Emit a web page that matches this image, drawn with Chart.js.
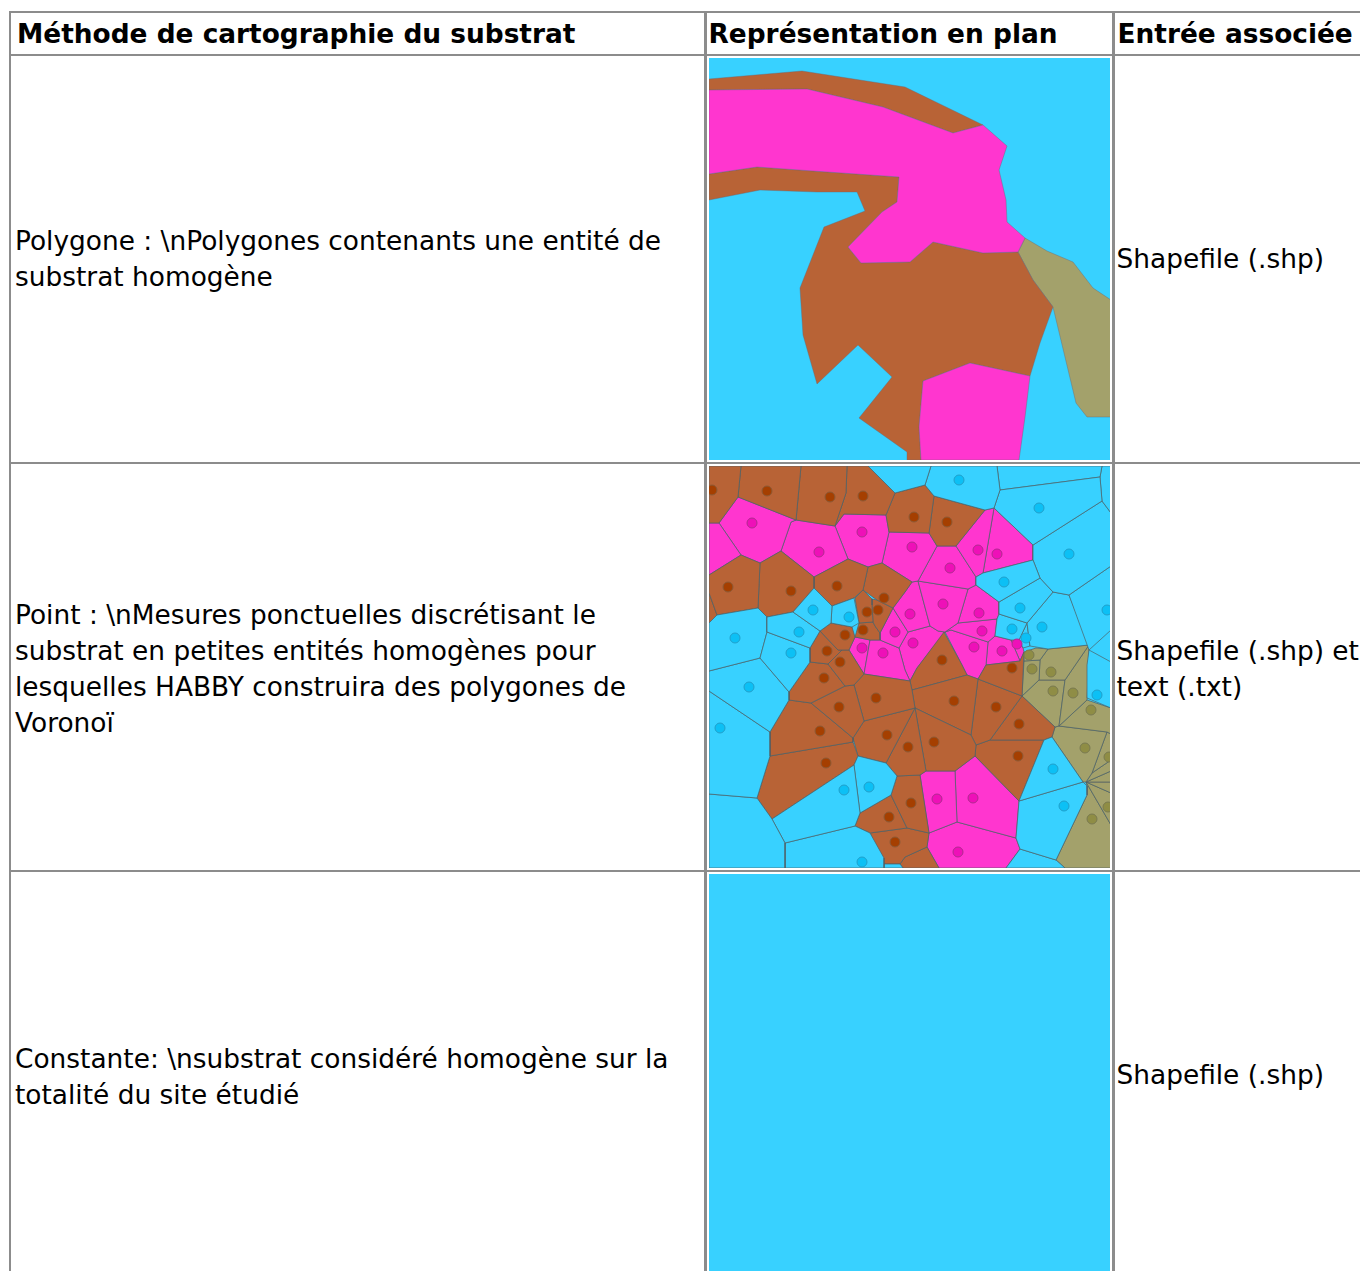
<!DOCTYPE html>
<html lang="fr">
<head>
<meta charset="UTF-8">
<title>Méthode de cartographie du substrat</title>
<script src="https://cdn.jsdelivr.net/npm/chart.js"></script>
<style>
  html, body { margin: 0; padding: 0; background: #fff; overflow: hidden; height: 1271px; }
  body { font-family: 'DejaVu Sans', sans-serif; font-size: 26.4px; line-height: 36px; color: #000; }
  table { position: absolute; left: 9px; top: 11px; width: 1500px; table-layout: fixed; border-collapse: collapse; }
  td, th { border: 2px solid #8c8c8c; padding: 0 0 0 2px; vertical-align: middle; text-align: left; white-space: nowrap; }
  td + td, th + th { border-left-width: 3px; }
  td:first-child { padding-left: 4px; }
  th { height: 41px; font-weight: bold; padding-left: 3px; }
  th:first-child { padding-left: 6px; }
  th:nth-child(2) { padding-left: 2px; }
  td.map { padding: 2px 0 0 2px; line-height: 0; height: 404px; vertical-align: top; }
  td.low { padding-top: 4px; }
  canvas { display: block; filter: blur(0.6px); }
</style>
</head>
<body>
<table>
  <colgroup><col style="width:695px"><col style="width:408px"><col></colgroup>
  <tr>
    <th>Méthode de cartographie du substrat</th>
    <th>Représentation en plan</th>
    <th>Entrée associée</th>
  </tr>
  <tr>
    <td>Polygone : \nPolygones contenants une entité de<br>substrat homogène</td>
    <td class="map"><canvas id="mapPolygon" width="401" height="402"></canvas></td>
    <td>Shapefile (.shp)</td>
  </tr>
  <tr>
    <td class="low">Point : \nMesures ponctuelles discrétisant le<br>substrat en petites entités homogènes pour<br>lesquelles HABBY construira des polygones de<br>Voronoï</td>
    <td class="map"><canvas id="mapPoint" width="401" height="402"></canvas></td>
    <td class="low">Shapefile (.shp) et<br>text (.txt)</td>
  </tr>
  <tr>
    <td class="low">Constante: \nsubstrat considéré homogène sur la<br>totalité du site étudié</td>
    <td class="map"><canvas id="mapConstant" width="401" height="402"></canvas></td>
    <td>Shapefile (.shp)</td>
  </tr>
</table>
<script>
// polygon map in page pixels
const polyBlue = [[709,58],[1111,58],[1111,460],[709,460]];
const polyBrown = [
  [[709,79],[802,71],[905,87],[983,125],[953,133],[883,107],[807,89],[709,90]],
  [[709,174],[757,167],[813,171],[899,177],[897,202],[882,212],[848,247],[861,263],[910,262],[933,242],[983,253],[1018,252],[1033,280],[1053,307],[1040,343],[1030,376],[970,363],[923,381],[919,427],[921,460],[907,460],[907,452],[859,418],[892,377],[858,345],[817,384],[803,335],[800,288],[824,227],[865,211],[857,192],[817,192],[760,190],[709,200]]
];
const polyMagenta = [
  [[709,90],[807,89],[883,107],[953,133],[983,125],[1007,146],[999,170],[1006,200],[1007,222],[1025,238],[1018,252],[983,253],[933,242],[910,262],[861,263],[848,247],[882,212],[897,202],[899,177],[813,171],[757,167],[709,174]],
  [[923,381],[970,363],[1030,376],[1025,417],[1019,460],[921,460],[919,427]]
];
const polyOlive = [
  [[1025,238],[1047,251],[1073,262],[1093,288],[1111,300],[1111,417],[1087,417],[1076,403],[1053,307],[1033,280],[1018,252]]
];

// point map: Voronoi cells by substrate class
const pointGround = [[709,466],[1111,466],[1111,868],[709,868]];
const cellsBrown = [
  [[709,466],[741,466],[738,497],[719,523],[709,523]],
  [[741,466],[801,466],[796,520],[738,497]],
  [[801,466],[847,466],[846,493],[835,526],[796,520]],
  [[847,466],[868,466],[895,493],[886,515],[844,514],[835,526],[846,493]],
  [[895,493],[925,485],[934,496],[929,533],[889,532],[886,515]],
  [[934,496],[985,510],[956,546],[937,546],[929,533]],
  [[709,575],[741,555],[760,563],[758,608],[717,615],[709,593]],
  [[709,593],[717,615],[709,623]],
  [[760,563],[781,551],[814,577],[814,588],[793,612],[767,617],[758,608]],
  [[814,577],[848,559],[868,567],[863,590],[854,598],[832,606],[814,588]],
  [[868,567],[882,563],[912,582],[905,592],[893,608],[877,600],[863,590]],
  [[855,598],[863,590],[872,599],[872,605],[873,622],[859,623]],
  [[872,605],[872,599],[877,600],[893,608],[880,633],[875,626],[873,622]],
  [[859,623],[873,622],[875,626],[880,633],[880,640],[870,640],[855,637]],
  [[831,623],[852,627],[855,637],[849,650],[838,650],[820,631]],
  [[820,631],[838,650],[842,650],[828,664],[810,662],[810,648]],
  [[828,664],[842,650],[849,650],[864,674],[854,685],[845,686]],
  [[810,662],[828,664],[845,686],[811,703],[789,700],[789,692]],
  [[845,686],[854,685],[864,721],[853,738],[811,703]],
  [[789,700],[811,703],[853,738],[853,742],[770,756],[770,732]],
  [[770,756],[853,742],[858,756],[854,765],[772,819],[757,798]],
  [[854,685],[864,674],[910,681],[912,690],[915,708],[864,721]],
  [[853,738],[864,721],[915,708],[886,763],[858,756]],
  [[915,708],[926,771],[920,775],[897,776],[886,763]],
  [[915,708],[971,735],[976,745],[975,756],[955,771],[926,771]],
  [[912,690],[967,675],[978,679],[971,735],[915,708]],
  [[944,632],[962,665],[967,675],[912,690],[910,681],[917,668]],
  [[978,679],[986,665],[1020,661],[1024,652],[1022,696]],
  [[978,679],[1022,696],[990,740],[976,745],[971,735]],
  [[1022,696],[1055,727],[1052,737],[1044,740],[990,740]],
  [[976,745],[990,740],[1044,740],[1019,801],[975,756]],
  [[897,776],[920,775],[929,833],[907,828],[891,795]],
  [[860,813],[891,795],[907,828],[870,833],[855,826]],
  [[870,833],[907,828],[929,833],[927,847],[905,857],[900,864],[884,864]],
  [[905,857],[927,847],[939,868],[903,868],[900,864]]
];
const cellsMagenta = [
  [[709,523],[719,523],[741,555],[709,575]],
  [[719,523],[738,497],[796,520],[791,522],[781,551],[760,563],[741,555]],
  [[791,522],[796,520],[835,526],[848,559],[814,577],[781,551]],
  [[835,526],[844,514],[886,515],[889,532],[882,563],[868,567],[848,559]],
  [[889,532],[929,533],[937,546],[918,581],[912,582],[882,563]],
  [[956,546],[985,510],[994,508],[983,573],[976,577]],
  [[994,508],[1033,545],[1033,560],[983,573]],
  [[937,546],[956,546],[976,577],[976,585],[968,589],[918,581]],
  [[918,581],[968,589],[958,623],[945,632],[938,631],[930,626]],
  [[968,589],[976,585],[999,602],[999,614],[997,619],[958,623]],
  [[905,592],[912,582],[918,581],[930,626],[908,632],[893,608]],
  [[958,623],[997,619],[995,636],[988,642],[951,630],[945,632]],
  [[945,632],[951,630],[988,642],[986,665],[978,679],[967,675],[962,665]],
  [[988,642],[995,636],[1011,640],[1020,661],[986,665]],
  [[1011,640],[1019,640],[1023,648],[1024,652],[1020,661]],
  [[880,633],[893,608],[908,632],[899,648],[880,640]],
  [[870,640],[880,640],[899,648],[905,670],[910,681],[864,674]],
  [[849,650],[855,637],[870,640],[864,674]],
  [[908,632],[930,626],[938,631],[945,632],[917,668],[910,681],[905,670],[899,648]],
  [[920,775],[926,771],[955,771],[957,822],[929,833]],
  [[955,771],[975,756],[1019,801],[1016,838],[957,822]],
  [[929,833],[957,822],[1016,838],[1020,849],[1006,868],[939,868],[927,847]]
];
const cellsBlue = [
  [[868,466],[931,466],[925,485],[895,493]],
  [[931,466],[997,466],[1000,490],[994,508],[985,510],[934,496],[925,485]],
  [[1000,490],[1100,477],[1102,501],[1033,545],[994,508]],
  [[997,466],[1102,466],[1100,477],[1000,490]],
  [[1102,466],[1111,466],[1111,513],[1102,501],[1100,477]],
  [[976,577],[983,573],[1033,560],[1040,578],[999,602],[976,585]],
  [[1033,545],[1102,501],[1111,513],[1111,566],[1069,595],[1053,592],[1040,578],[1033,560]],
  [[1069,595],[1111,566],[1111,630],[1089,650]],
  [[1089,650],[1111,662],[1111,708],[1087,698],[1087,665]],
  [[999,602],[1040,578],[1053,592],[1027,623],[999,614]],
  [[999,614],[1027,623],[1019,640],[1011,640],[995,636],[997,619]],
  [[1053,592],[1069,595],[1089,645],[1048,649],[1030,646],[1027,623]],
  [[1027,623],[1030,646],[1023,648],[1019,640]],
  [[814,588],[832,606],[831,623],[820,631],[793,612]],
  [[832,606],[854,598],[859,623],[852,627],[831,623]],
  [[767,617],[793,612],[820,631],[810,648],[767,632]],
  [[767,632],[810,648],[810,662],[789,692],[760,658]],
  [[717,615],[758,608],[767,617],[767,632],[760,658],[709,671],[709,623]],
  [[709,671],[760,658],[789,692],[789,700],[770,732],[709,691]],
  [[709,691],[770,732],[770,756],[757,798],[709,794]],
  [[709,794],[757,798],[772,819],[785,843],[785,868],[709,868]],
  [[772,819],[854,765],[860,813],[855,826],[785,843]],
  [[858,756],[886,763],[897,776],[891,795],[860,813],[854,765]],
  [[785,843],[855,826],[870,833],[884,858],[884,868],[785,868]],
  [[884,864],[900,864],[903,868],[884,868]],
  [[1044,740],[1052,737],[1083,782],[1019,801]],
  [[1019,801],[1083,782],[1087,786],[1087,795],[1056,860],[1020,849],[1016,838]],
  [[1020,849],[1056,860],[1065,868],[1006,868]]
];
const cellsOlive = [
  [[1024,652],[1036,648],[1048,649],[1040,660],[1024,661]],
  [[1024,661],[1040,660],[1039,680],[1022,696]],
  [[1040,660],[1048,649],[1089,645],[1065,680],[1039,680]],
  [[1065,680],[1089,645],[1087,700],[1059,726]],
  [[1022,696],[1039,680],[1065,680],[1059,726],[1055,727]],
  [[1087,700],[1111,708],[1111,734],[1107,732],[1059,726]],
  [[1055,727],[1059,726],[1107,732],[1092,773],[1086,782],[1083,782],[1052,737]],
  [[1107,732],[1111,734],[1111,760],[1092,773]],
  [[1092,773],[1111,760],[1111,771],[1086,782]],
  [[1086,782],[1111,771],[1111,782]],
  [[1086,782],[1111,782],[1111,793]],
  [[1086,782],[1111,793],[1111,825]],
  [[1087,786],[1086,782],[1111,825],[1111,868],[1065,868],[1056,860],[1087,795]]
];

const dotsBrown = [[712,490],[767,491],[830,497],[863,496],[728,587],[791,591],[837,586],[884,598],[878,610],[867,612],[863,630],[845,635],[827,651],[840,662],[914,517],[947,522],[942,660],[1012,668],[824,678],[876,698],[839,707],[820,731],[887,735],[908,747],[826,763],[889,817],[895,842],[954,701],[996,707],[1019,724],[934,742],[1018,756],[911,803]];
const dotsMagenta = [[752,523],[819,552],[862,532],[912,547],[950,568],[978,550],[997,554],[943,604],[910,614],[979,613],[982,631],[913,643],[974,647],[1002,651],[1017,644],[895,632],[883,653],[862,648],[937,799],[973,798],[958,852]];
const dotsBlue = [[813,610],[849,617],[799,632],[791,653],[735,638],[749,687],[720,728],[844,790],[869,787],[862,862],[959,480],[1039,508],[1069,554],[1004,582],[1020,608],[1012,629],[1042,627],[1026,638],[1107,610],[1097,695],[1053,769],[1064,806]];
const dotsOlive = [[1029,655],[1032,669],[1051,672],[1053,691],[1073,693],[1091,710],[1085,748],[1109,757],[1108,807],[1092,819]];

// constant map
const constantBlue = [[709,874],[1111,874],[1111,1276],[709,1276]];

const BLUE = '#38d1ff', BROWN = '#b86336', MAGENTA = '#ff36cf', OLIVE = '#a3a16b';
const EDGE = 'rgba(80,95,100,0.7)', EDGE_SOFT = 'rgba(110,100,110,0.4)';

function toXY(points) {
  return points.map(([x, y]) => ({ x, y }));
}
function polygon(points, color, order, edge) {
  return {
    type: 'scatter',
    data: toXY(points.concat([points[0]])),
    showLine: true,
    fill: 'shape',
    backgroundColor: color,
    borderColor: edge || color,
    borderWidth: 1,
    pointRadius: 0,
    order: order
  };
}
function dots(points, color, border) {
  return {
    type: 'scatter',
    data: toXY(points),
    showLine: false,
    pointRadius: 5,
    pointBackgroundColor: color,
    pointBorderColor: border,
    pointBorderWidth: 1,
    order: 0
  };
}
function drawMap(id, datasets, xMin, xMax, yMin, yMax) {
  new Chart(document.getElementById(id), {
    type: 'scatter',
    data: { datasets: datasets },
    options: {
      responsive: false,
      animation: false,
      events: [],
      layout: { padding: 0, autoPadding: false },
      plugins: { legend: { display: false }, tooltip: { enabled: false }, filler: { drawTime: 'beforeDatasetDraw' } },
      scales: {
        x: { type: 'linear', display: false, min: xMin, max: xMax },
        y: { type: 'linear', display: false, reverse: true, min: yMin, max: yMax }
      }
    }
  });
}

drawMap('mapPolygon', [
  polygon(polyBlue, BLUE, 3),
  ...polyBrown.map(p => polygon(p, BROWN, 2, EDGE_SOFT)),
  ...polyMagenta.map(p => polygon(p, MAGENTA, 1, EDGE_SOFT)),
  ...polyOlive.map(p => polygon(p, OLIVE, 2, EDGE_SOFT))
], 709, 1110, 58, 460);

drawMap('mapPoint', [
  polygon(pointGround, BLUE, 3),
  ...cellsBlue.map(p => polygon(p, BLUE, 2, EDGE)),
  ...cellsBrown.map(p => polygon(p, BROWN, 2, EDGE)),
  ...cellsMagenta.map(p => polygon(p, MAGENTA, 2, EDGE)),
  ...cellsOlive.map(p => polygon(p, OLIVE, 2, EDGE)),
  dots(dotsBrown, '#a53f00', '#8c5a36'),
  dots(dotsMagenta, '#ee10b8', '#b02a90'),
  dots(dotsBlue, '#0cc0f5', '#20a0cc'),
  dots(dotsOlive, '#8f8d45', '#7a7a50')
], 709, 1110, 466, 868);

drawMap('mapConstant', [polygon(constantBlue, BLUE, 3)], 709, 1110, 874, 1276);
</script>
</body>
</html>
